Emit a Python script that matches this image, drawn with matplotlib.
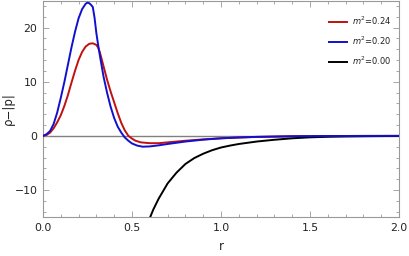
import matplotlib
matplotlib.use("Agg")
import matplotlib.pyplot as plt

# m^2 = 0.24 (red)
r_red = [0.0, 0.02, 0.04, 0.06, 0.08, 0.10, 0.12, 0.14, 0.16, 0.18, 0.20,
         0.22, 0.24, 0.26, 0.28, 0.30, 0.31, 0.32, 0.34, 0.36, 0.38, 0.40,
         0.42, 0.44, 0.46, 0.48, 0.50, 0.52, 0.55, 0.60, 0.65, 0.70, 0.80,
         0.90, 1.00, 1.10, 1.20, 1.40, 1.60, 1.80, 2.00]
y_red = [0.0, 0.15, 0.6, 1.4, 2.5, 3.8, 5.5, 7.5, 9.8, 12.0, 14.0,
         15.5, 16.5, 17.0, 17.1, 16.8, 16.3, 15.4, 12.9, 10.4, 8.2, 6.2,
         4.2, 2.4, 1.0, 0.0, -0.5, -0.9, -1.2, -1.35, -1.35, -1.2, -0.9,
         -0.65, -0.45, -0.3, -0.2, -0.08, -0.03, -0.01, 0.0]

# m^2 = 0.20 (blue)
r_blue = [0.0, 0.02, 0.04, 0.06, 0.08, 0.10, 0.12, 0.14, 0.16, 0.18, 0.20,
          0.22, 0.24, 0.25, 0.26, 0.27, 0.28, 0.29, 0.30, 0.31, 0.32, 0.34,
          0.36, 0.38, 0.40, 0.42, 0.44, 0.46, 0.48, 0.50, 0.53, 0.56, 0.60,
          0.65, 0.70, 0.80, 0.90, 1.00, 1.10, 1.20, 1.40, 1.60, 1.80, 2.00]
y_blue = [0.0, 0.3, 0.9, 2.2, 4.3, 7.0, 9.9, 13.1, 16.3, 19.2, 21.7,
          23.4, 24.4, 24.6, 24.5, 24.2, 23.8, 21.8, 19.0, 16.8, 14.8, 11.0,
          8.0, 5.4, 3.3, 1.7, 0.6, -0.3, -0.9, -1.4, -1.8, -2.0, -1.95,
          -1.75, -1.5, -1.05, -0.7, -0.45, -0.3, -0.18, -0.07, -0.03, -0.01, 0.0]

# m^2 = 0.00 (black)
r_black = [0.59, 0.62, 0.65, 0.70, 0.75, 0.80, 0.85, 0.90, 0.95, 1.00,
           1.05, 1.10, 1.20, 1.30, 1.40, 1.50, 1.60, 1.70, 1.80, 1.90, 2.00]
y_black = [-16.0, -13.6, -11.6, -8.8, -6.8, -5.2, -4.1, -3.3, -2.65, -2.15,
           -1.8, -1.5, -1.05, -0.72, -0.45, -0.27, -0.17, -0.11, -0.07, -0.04, -0.02]

labels = [r"$m^2$=0.24", r"$m^2$=0.20", r"$m^2$=0.00"]

frame_col = "#999999"
text_col = "#222222"

fig = plt.figure(figsize=(4.09, 2.56), dpi=100)
ax = fig.add_axes([0.105, 0.152, 0.8705, 0.846])

ax.axhline(0, color="#808080", lw=1.0, zorder=1)
ax.plot(r_red, y_red, color="#c01010", lw=1.4, label=labels[0], zorder=3)
ax.plot(r_blue, y_blue, color="#1010d0", lw=1.4, label=labels[1], zorder=4)
ax.plot(r_black, y_black, color="black", lw=1.4, label=labels[2], zorder=3)

ax.set_xlim(0, 2.0)
ax.set_ylim(-15, 25)
ax.set_xticks([0.0, 0.5, 1.0, 1.5, 2.0])
ax.set_xticklabels(["0.0", "0.5", "1.0", "1.5", "2.0"])
ax.set_yticks([-10, 0, 10, 20])
ax.set_xticks([i * 0.1 for i in range(21)], minor=True)
ax.set_yticks(list(range(-14, 25, 2)), minor=True)

for s in ax.spines.values():
    s.set_color(frame_col)
    s.set_linewidth(0.8)
ax.tick_params(which="both", direction="in", top=True, right=True,
               color=frame_col, width=0.6)
ax.tick_params(which="major", length=4, labelsize=7.8, labelcolor=text_col, pad=4)
ax.tick_params(which="minor", length=2)

ax.set_xlabel("r", fontsize=8.5, color=text_col, labelpad=5)
ax.set_ylabel("ρ−|p|", fontsize=8.5, color=text_col, labelpad=0)

leg = ax.legend(loc="upper right", bbox_to_anchor=(1.0, 0.97), frameon=False,
                fontsize=6, handlelength=2.2, handletextpad=0.6, labelspacing=0.9)
for t in leg.get_texts():
    t.set_color(text_col)

fig.savefig("out.png", dpi=100)
